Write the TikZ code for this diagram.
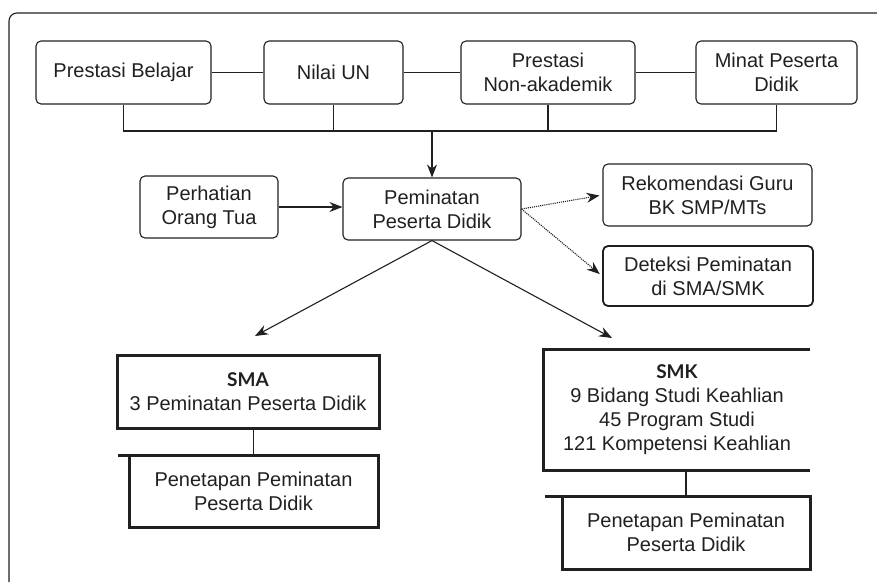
\documentclass[tikz,border=0pt]{standalone}
\usepackage{fontspec}
\setmainfont{Liberation Sans}
\newfontfamily\headfont{Lato}
\usetikzlibrary{arrows.meta}
\definecolor{ink}{RGB}{35,31,32}
\tikzstyle{rb}=[draw=ink,rounded corners=5pt,line width=1.1pt,align=center,
  inner sep=0pt]
\tikzstyle{tb}=[draw=ink,line width=3pt,align=center,inner sep=0pt,outer sep=0pt]
\tikzstyle{ln}=[draw=ink,line width=1.1pt]
\tikzstyle{thk}=[draw=ink,line width=3pt]
\tikzstyle{ar}=[ln,-{Stealth[length=13pt,width=10pt]}]
\newcommand{\hd}[1]{{\headfont\bfseries\fontsize{19}{24}\selectfont #1}}

\begin{document}
\begin{tikzpicture}[x=1pt,y=-1pt,font=\fontsize{20}{24}\selectfont,text=ink]
        \useasboundingbox (0,0) rectangle (877,582);
        \draw[ln,rounded corners=8pt] (9,582) -- (9,13) -- (877,13);
        % top row
        \node[rb,minimum width=175pt,minimum height=63pt] (pb) at (123.5,72.5) {Prestasi Belajar};
        \node[rb,minimum width=139pt,minimum height=63pt] (nun) at (333.5,72.5) {Nilai UN};
        \node[rb,minimum width=174pt,minimum height=63pt] (pna) at (548,72.5) {Prestasi\\Non-akademik};
        \node[rb,minimum width=161pt,minimum height=63pt] (mpd) at (776.5,72.5) {Minat Peserta\\Didik};
        \coordinate (bus) at (433,131);
        \draw[ln] (pb) -- (nun);
        \draw[ln] (nun) -- (pna);
        \draw[ln] (pna) -- (mpd);
        \draw[ln] (pb.south) |- (mpd.south |- bus) -- (mpd.south);
        \draw[ln] (nun.south) -- (nun.south |- bus);
        \draw[ln] (pna.south) -- (pna.south |- bus);
        % middle row
        \node[rb,minimum width=138pt,minimum height=62pt] (pot) at (209,207) {Perhatian\\Orang Tua};
        \node[rb,minimum width=178pt,minimum height=62pt] (ppd) at (432,209) {Peminatan\\Peserta Didik};
        \node[rb,minimum width=209pt,minimum height=62pt] (rgb) at (707.5,195) {Rekomendasi Guru\\BK SMP/MTs};
        \node[rb,line width=1.8pt,minimum width=210pt,minimum height=60pt] (dsk) at (708,276) {Deteksi Peminatan\\di SMA/SMK};
        \draw[ar] (ppd.north |- bus) -- (ppd.north);
        \draw[ar] (pot.east) -- (ppd.west |- pot.east);
        \draw[ar,densely dotted,shorten >=3pt] (ppd.east) -- (rgb.west);
        \draw[ar,densely dotted,shorten >=3pt] (ppd.east) -- (dsk.west);
        % bottom
        \coordinate (smaend) at (255,336);
        \coordinate (smkend) at (612,338);
        \draw[ar] (ppd.south) -- (smaend);
        \draw[ar] (ppd.south) -- (smkend);
        \node[tb,minimum width=262pt,minimum height=73pt] (sma) at (248,391.5) {\hd{SMA}\\3 Peminatan Peserta Didik};
        \node[tb,minimum width=249pt,minimum height=72pt] (pa) at (253.5,491) {Penetapan Peminatan\\Peserta Didik};
        \draw[thk] ([xshift=-11pt]pa.north west) -- (pa.north west);
        \draw[ln] (pa.north |- sma.south) -- (pa.north);
        \node[align=center,inner sep=0pt,minimum width=266pt,minimum height=120pt] (smk) at (677,410)
          {\hd{SMK}\\9 Bidang Studi Keahlian\\45 Program Studi\\121 Kompetensi Keahlian};
        \draw[thk] (smk.north east) -- (smk.north west) -- (smk.south west) -- (smk.south east);
        \node[tb,minimum width=248pt,minimum height=73pt] (pk) at (686,532.5) {Penetapan Peminatan\\Peserta Didik};
        \draw[thk] ([xshift=-17pt]pk.north west) -- (pk.north west);
        \draw[ln] (pk.north |- smk.south) -- (pk.north);
\end{tikzpicture}
\end{document}
